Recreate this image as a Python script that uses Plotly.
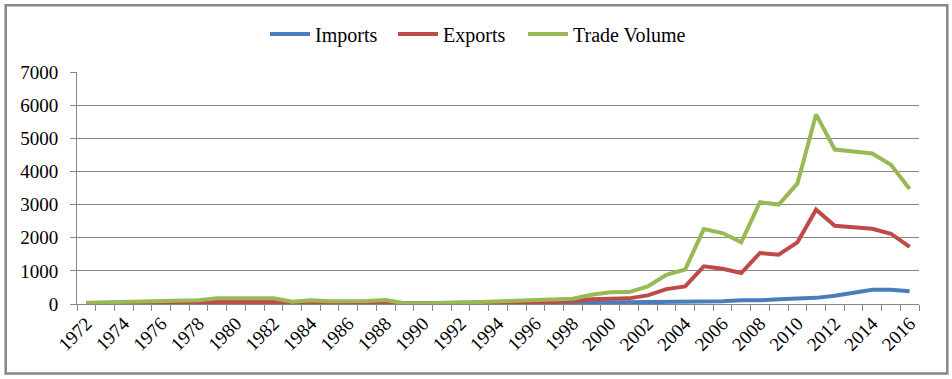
import plotly.graph_objects as go

years = list(range(1972, 2017))
imports = [0, 0, 0, 0, 0, 0, 5, 10, 10, 10, 10, 5, 5, 5, 5, 5, 5, 5, 5, 5,
           10, 15, 20, 20, 25, 30, 35, 40, 45, 45, 45, 45, 50, 70, 80, 110,
           110, 145, 150, 185, 250, 330, 430, 430, 385]
exports = [10, 10, 20, 20, 30, 30, 40, 70, 70, 70, 60, 20, 40, 20, 20, 30,
           50, 5, 5, 10, 15, 20, 30, 30, 40, 50, 80, 140, 170, 170, 260, 450,
           530, 1135, 1065, 935, 1540, 1490, 1860, 2845, 2360, 2320, 2270,
           2120, 1720]
trade_volume = [40, 50, 80, 90, 90, 100, 110, 170, 170, 170, 170, 70, 110, 80,
                80, 90, 120, 20, 15, 20, 50, 60, 80, 80, 100, 110, 160, 280,
                355, 360, 530, 880, 1040, 2260, 2140, 1860, 3070, 3000, 3630,
                5720, 4660, 4600, 4540, 4200, 3470]
tick_years = list(range(1972, 2017, 2))

names = ["Imports", "Exports", "Trade Volume"]
colors = ["#4A7EBB", "#BE4B48", "#98B954"]
series = [imports, exports, trade_volume]
legend_ids = ["legend", "legend2", "legend3"]
legend_left = [265, 393, 523]

FONT = "Liberation Serif, Times New Roman, serif"
W, H = 952, 379
L, R, T, B = 77, 33, 72, 75
pw, ph = W - L - R, H - T - B

fig = go.Figure()
for n, c, s, lg in zip(names, colors, series, legend_ids):
    fig.add_trace(go.Scatter(x=years, y=s, name=n, mode="lines", legend=lg,
                             line=dict(color=c, width=4)))

legend_style = dict(orientation="h", xref="container", xanchor="left",
                    yref="container", y=1 - 34 / H, yanchor="middle",
                    font=dict(family=FONT, size=20, color="black"),
                    itemwidth=40, bgcolor="rgba(0,0,0,0)")

fig.update_layout(
    width=W, height=H,
    margin=dict(l=L, r=R, t=T, b=B, autoexpand=False),
    paper_bgcolor="white", plot_bgcolor="white",
    font=dict(family=FONT, size=19, color="black"),
    showlegend=True,
    legend=dict(x=legend_left[0] / W, **legend_style),
    legend2=dict(x=legend_left[1] / W, **legend_style),
    legend3=dict(x=legend_left[2] / W, **legend_style),
    xaxis=dict(range=[1971.5, 2016.5], tickmode="array", tickvals=tick_years,
               ticktext=[str(y) for y in tick_years], tickangle=-45,
               ticks="", showgrid=False, showline=True, linecolor="#868686",
               linewidth=1, zeroline=False, automargin=False,
               tickfont=dict(family=FONT, size=19, color="black"),
               minor=dict(ticks="outside", tick0=1971.5, dtick=1, ticklen=6,
                          tickcolor="#868686", showgrid=False)),
    yaxis=dict(range=[0, 7000], tickvals=list(range(0, 7001, 1000)),
               showgrid=True, gridcolor="#868686", gridwidth=1,
               showline=True, linecolor="#868686", linewidth=1,
               ticks="outside", ticklen=6, tickcolor="#868686",
               zeroline=False, ticklabelstandoff=8, automargin=False,
               tickfont=dict(family=FONT, size=19, color="black")),
)

# outer chart border
x0 = (5.7 - L) / pw
x1 = (947.3 - L) / pw
y1 = (H - B - 5.3) / ph
y0 = (H - B - 373.5) / ph
fig.add_shape(type="rect", xref="paper", yref="paper", x0=x0, x1=x1, y0=y0, y1=y1,
              line=dict(color="#878787", width=2.5), layer="above")

fig.write_html("out.html", config={"displayModeBar": False},
               post_script="document.body.style.margin='0px';document.body.style.overflow='hidden';")
